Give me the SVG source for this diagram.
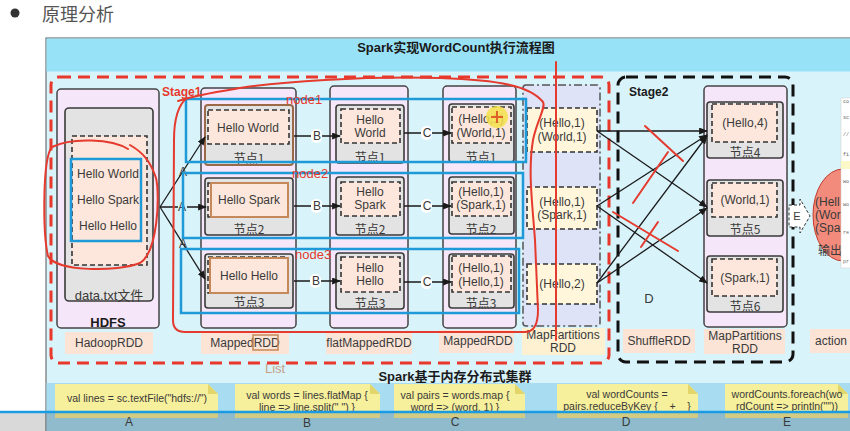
<svg xmlns="http://www.w3.org/2000/svg" width="850" height="431" viewBox="0 0 850 431">
<defs>
<marker id="ah" viewBox="0 0 10 8" refX="9" refY="4" markerWidth="9" markerHeight="7" markerUnits="userSpaceOnUse" orient="auto"><path d="M0,0 L10,4 L0,8 z" fill="#1a1a1a"/></marker>
</defs>
<style>
.t{font-family:"Liberation Sans","Noto Sans CJK SC",sans-serif;fill:#3a3a3a;font-size:12px;text-anchor:middle;dominant-baseline:central}
.c{font-family:"Noto Sans CJK SC","Liberation Sans",sans-serif}
.b{font-weight:bold;fill:#1a1a1a}
.col{fill:#f6e6f9;stroke:#444;stroke-width:1.5}
.nd{fill:#e3e3e3;stroke:#3a3a3a;stroke-width:1.6}
.dsh{fill:#fde7dc;stroke:#333;stroke-width:1.6;stroke-dasharray:5 3}
.yel{fill:#fff6dc;stroke:#333;stroke-width:1.6;stroke-dasharray:5 3}
.ora{fill:#fde7dc;stroke:#c4885a;stroke-width:2}
.lbl{fill:#fbe4d6}
.ln{stroke:#1a1a1a;stroke-width:1.3;fill:none;marker-end:url(#ah)}
.blue{fill:none;stroke:#1f9ad8;stroke-width:2.5}
.red{fill:none;stroke:#e53a2e;stroke-width:2;stroke-linecap:round}
.note{fill:#f6ef9b}
.fold{fill:#e2d56a}
.nt{font-family:"Liberation Sans",sans-serif;fill:#3a3a3a;font-size:10.5px;text-anchor:middle;dominant-baseline:central}
.code{font-family:"Liberation Mono",monospace;font-size:5px;fill:#666;dominant-baseline:central}
</style>
<rect x="0" y="0" width="850" height="431" fill="#ffffff"/>
<circle cx="15" cy="13" r="4.5" fill="#333"/>
<text x="42" y="13" class="t c" style="font-size:18px;text-anchor:start;fill:#555">原理分析</text>

<!-- frame -->
<rect x="46" y="38" width="820" height="400" fill="#d9f3fb" stroke="#555" stroke-width="1"/>
<rect x="46.5" y="38.5" width="820" height="33" fill="#98e2f8"/>
<text x="456" y="47" class="t b" style="font-size:13px">Spark实现WordCount执行流程图</text>
<rect x="46.5" y="383" width="820" height="50" fill="#a8dcf0"/>
<text x="455" y="376" class="t b" style="font-size:13px">Spark基于内存分布式集群</text>

<!-- stages -->
<rect x="51" y="77" width="558" height="286" rx="8" fill="none" stroke="#e8382b" stroke-width="3" stroke-dasharray="12 7"/>
<text x="162" y="92" class="t b" style="text-anchor:start;fill:#e8382b">Stage1</text>
<rect x="618" y="77" width="175" height="285" rx="8" fill="none" stroke="#111" stroke-width="3" stroke-dasharray="12 7"/>
<text x="629" y="92" class="t b" style="text-anchor:start">Stage2</text>

<!-- HDFS -->
<g id="hdfs">
<rect x="57" y="89" width="102" height="239" rx="4" class="col"/>
<rect x="65" y="108" width="88" height="193" rx="4" class="nd"/>
<rect x="72" y="136" width="75" height="129" class="dsh"/>
<rect x="71" y="159" width="70" height="82" class="blue"/>
<text x="108" y="174" class="t">Hello World</text>
<text x="108" y="200" class="t">Hello Spark</text>
<text x="108" y="226" class="t">Hello Hello</text>
<text x="109" y="295" class="t" style="font-size:13px">data.txt文件</text>
<text x="108" y="322" class="t b" style="font-size:13px">HDFS</text>
<rect x="65" y="332" width="88" height="22" class="lbl"/>
<text x="109" y="343" class="t">HadoopRDD</text>
</g>

<!-- MappedRDD 1 -->
<g id="mapped1">
<rect x="201" y="88" width="95" height="240" rx="4" class="col"/>
<rect x="205" y="105" width="88" height="60" rx="3" class="nd" style="stroke:#9a6a48;stroke-width:2"/>
<rect x="208" y="110" width="81" height="34" class="dsh"/>
<text x="248" y="128" class="t">Hello World</text>
<text x="249" y="157" class="t c">节点1</text>
<rect x="205" y="178" width="88" height="57" rx="3" class="nd"/>
<rect x="208" y="183" width="80" height="34" class="dsh"/>
<rect x="211" y="183" width="77" height="34" class="ora"/>
<text x="249" y="200" class="t">Hello Spark</text>
<text x="249" y="228" class="t c">节点2</text>
<rect x="205" y="254" width="88" height="54" rx="3" class="nd"/>
<rect x="208" y="257" width="80" height="36" class="dsh"/>
<rect x="210" y="258" width="78" height="35" class="ora"/>
<text x="249" y="276" class="t">Hello Hello</text>
<text x="249" y="301" class="t c">节点3</text>
<rect x="201" y="332" width="88" height="22" class="lbl"/>
<text x="245" y="343" class="t">MappedRDD</text>
<rect x="253" y="335" width="25" height="15" fill="none" stroke="#c4885a" stroke-width="1.5"/>
</g>

<!-- flatMappedRDD -->
<g id="flatmapped">
<rect x="330" y="86" width="78" height="242" rx="4" class="col"/>
<rect x="336" y="105" width="68" height="58" rx="3" class="nd"/>
<rect x="341" y="109" width="59" height="34" class="dsh"/>
<text x="370" y="120" class="t">Hello</text>
<text x="370" y="133" class="t">World</text>
<text x="370" y="156" class="t c">节点1</text>
<rect x="336" y="177" width="68" height="58" rx="3" class="nd"/>
<rect x="341" y="182" width="59" height="34" class="dsh"/>
<text x="370" y="192" class="t">Hello</text>
<text x="370" y="205" class="t">Spark</text>
<text x="370" y="228" class="t c">节点2</text>
<rect x="336" y="253" width="68" height="56" rx="3" class="nd"/>
<rect x="341" y="257" width="59" height="35" class="dsh"/>
<text x="370" y="268" class="t">Hello</text>
<text x="370" y="281" class="t">Hello</text>
<text x="370" y="302" class="t c">节点3</text>
<rect x="326" y="332" width="86" height="22" class="lbl"/>
<text x="369" y="343" class="t">flatMappedRDD</text>
</g>

<!-- MappedRDD 2 -->
<g id="mapped2">
<rect x="443" y="86" width="73" height="242" rx="4" class="col"/>
<rect x="449" y="104" width="65" height="58" rx="3" class="nd"/>
<rect x="452" y="107" width="59" height="36" class="dsh"/>
<text x="481" y="119" class="t">(Hello,1)</text>
<text x="481" y="133" class="t">(World,1)</text>
<text x="481" y="156" class="t c">节点1</text>
<rect x="449" y="177" width="65" height="57" rx="3" class="nd"/>
<rect x="452" y="182" width="59" height="34" class="dsh"/>
<text x="481" y="192" class="t">(Hello,1)</text>
<text x="481" y="205" class="t">(Spark,1)</text>
<text x="481" y="228" class="t c">节点2</text>
<rect x="449" y="254" width="65" height="54" rx="3" class="nd"/>
<rect x="452" y="256" width="59" height="36" class="dsh"/>
<text x="481" y="268" class="t">(Hello,1)</text>
<text x="481" y="282" class="t">(Hello,1)</text>
<text x="481" y="302" class="t c">节点3</text>
<rect x="439" y="330" width="75" height="23" class="lbl"/>
<text x="478" y="341" class="t">MappedRDD</text>
</g>

<!-- MapPartitions stage1 -->
<g id="mappart1">
<rect x="523" y="85" width="77" height="241" rx="3" fill="#dfe3f8" stroke="#555" stroke-width="1.5" stroke-dasharray="8 3 2 3"/>
<rect x="527" y="108" width="70" height="44" class="yel"/>
<text x="562" y="123" class="t">(Hello,1)</text>
<text x="562" y="137" class="t">(World,1)</text>
<rect x="527" y="187" width="70" height="42" class="yel"/>
<text x="562" y="202" class="t">(Hello,1)</text>
<text x="562" y="215" class="t">(Spark,1)</text>
<rect x="527" y="264" width="70" height="40" class="yel"/>
<text x="562" y="284" class="t">(Hello,2)</text>
<rect x="522" y="328" width="83" height="27" fill="#fdf1d2"/>
<text x="563" y="335" class="t">MapPartitions</text>
<text x="563" y="348" class="t">RDD</text>
</g>

<!-- MapPartitions stage2 -->
<g id="mappart2">
<rect x="704" y="86" width="83" height="241" rx="4" class="col"/>
<rect x="707" y="102" width="76" height="56" rx="3" class="nd"/>
<rect x="712" y="104" width="65" height="38" class="dsh"/>
<text x="745" y="123" class="t">(Hello,4)</text>
<text x="745" y="151" class="t c">节点4</text>
<rect x="707" y="180" width="76" height="56" rx="3" class="nd"/>
<rect x="712" y="183" width="65" height="34" class="dsh"/>
<text x="745" y="200" class="t">(World,1)</text>
<text x="745" y="228" class="t c">节点5</text>
<rect x="707" y="256" width="76" height="56" rx="3" class="nd"/>
<rect x="712" y="259" width="65" height="37" class="dsh"/>
<text x="745" y="278" class="t">(Spark,1)</text>
<text x="745" y="305" class="t c">节点6</text>
<rect x="704" y="329" width="81" height="25" class="lbl"/>
<text x="745" y="336" class="t">MapPartitions</text>
<text x="745" y="349" class="t">RDD</text>
</g>

<g id="shuffle">
<rect x="623" y="329" width="72" height="24" class="lbl"/>
<text x="659" y="341" class="t">ShuffleRDD</text>
<text x="649" y="298" class="t" style="font-size:13px">D</text>
</g>

<!-- connectors -->
<g id="connectors">
<line x1="160" y1="207" x2="205" y2="137" class="ln"/>
<line x1="160" y1="207" x2="206" y2="207" class="ln"/>
<line x1="160" y1="207" x2="205" y2="279" class="ln"/>
<line x1="294" y1="136" x2="340" y2="136" class="ln"/>
<line x1="294" y1="206" x2="340" y2="206" class="ln"/>
<line x1="294" y1="281" x2="340" y2="281" class="ln"/>
<line x1="404" y1="133" x2="451" y2="133" class="ln"/>
<line x1="404" y1="206" x2="451" y2="206" class="ln"/>
<line x1="404" y1="282" x2="451" y2="282" class="ln"/>
<line x1="597" y1="131" x2="707" y2="131" class="ln"/>
<line x1="597" y1="131" x2="707" y2="207" class="ln"/>
<line x1="597" y1="206" x2="707" y2="135" class="ln"/>
<line x1="597" y1="206" x2="707" y2="283" class="ln"/>
<line x1="597" y1="283" x2="707" y2="136" class="ln"/>
<line x1="597" y1="283" x2="707" y2="208" class="ln"/>
<rect x="178" y="200" width="9" height="14" fill="#d9f3fb"/>
<text x="183" y="172" class="t">A</text>
<text x="182" y="207" class="t">A</text>
<text x="183" y="244" class="t">A</text>
<rect x="311" y="129" width="11" height="14" rx="5" fill="#fff"/>
<rect x="311" y="199" width="11" height="14" rx="5" fill="#fff"/>
<rect x="310" y="274" width="11" height="14" rx="5" fill="#fff"/>
<text x="317" y="136" class="t">B</text>
<text x="317" y="206" class="t">B</text>
<text x="316" y="281" class="t">B</text>
<rect x="421" y="126" width="11" height="14" rx="5" fill="#fff"/>
<rect x="421" y="199" width="11" height="14" rx="5" fill="#fff"/>
<rect x="421" y="275" width="11" height="14" rx="5" fill="#fff"/>
<text x="427" y="133" class="t">C</text>
<text x="427" y="206" class="t">C</text>
<text x="427" y="282" class="t">C</text>
</g>

<!-- right side: action / output -->
<g id="output">
<polygon points="789,205 800,205 800,199 810,216 800,233 800,227 789,227" fill="#fff" stroke="#333" stroke-width="1" stroke-dasharray="3 2"/>
<text x="797" y="216" class="t" style="font-size:11px">E</text>
<ellipse cx="843" cy="215" rx="30" ry="46" fill="#f28b7b" stroke="#c0392b" stroke-width="1"/>
<text x="815" y="202" class="t" style="text-anchor:start">(Hell</text>
<text x="815" y="215" class="t" style="text-anchor:start">(Worl</text>
<text x="815" y="228" class="t" style="text-anchor:start">(Spar</text>
<text x="818" y="249" class="t c" style="text-anchor:start">输出</text>
<rect x="841" y="98" width="12" height="170" fill="#ffffff" stroke="#ccc" stroke-width="0.5"/>
<rect x="841" y="161" width="12" height="8" fill="#fdf8c8"/>
<text x="843" y="102" class="code">co</text>
<text x="843" y="118" class="code">sc</text>
<text x="843" y="135" class="code">//</text>
<text x="843" y="155" class="code">fi</text>
<text x="843" y="182" class="code">wo</text>
<text x="843" y="205" class="code">wo</text>
<text x="843" y="233" class="code">re</text>
<text x="843" y="262" class="code">pr</text>
<rect x="810" y="329" width="45" height="24" class="lbl"/>
<text x="815" y="341" class="t" style="text-anchor:start">action</text>
</g>

<!-- sticky notes -->
<g id="notes">
<polygon points="55,384 208,384 218,394 218,418 55,418" class="note"/>
<polygon points="208,384 218,394 208,394" class="fold"/>
<text x="137" y="398" class="nt">val lines = sc.textFile("hdfs://")</text>
<polygon points="235,384 370,384 380,394 380,418 235,418" class="note"/>
<polygon points="370,384 380,394 370,394" class="fold"/>
<text x="307" y="395" class="nt">val words = lines.flatMap {</text>
<text x="307" y="407" class="nt">line =&gt; line.split(" ") }</text>
<polygon points="394,384 515,384 525,394 525,418 394,418" class="note"/>
<polygon points="515,384 525,394 515,394" class="fold"/>
<text x="455" y="395" class="nt">val pairs = words.map {</text>
<text x="455" y="407" class="nt">word =&gt; (word, 1) }</text>
<polygon points="557,384 688,384 698,394 698,418 557,418" class="note"/>
<polygon points="688,384 698,394 688,394" class="fold"/>
<text x="627" y="394" class="nt">val wordCounts =</text>
<text x="627" y="406" class="nt">pairs.reduceByKey { _ + _ }</text>
<polygon points="725,384 838,384 848,394 848,418 725,418" class="note"/>
<polygon points="838,384 848,394 838,394" class="fold"/>
<text x="787" y="394" class="nt">wordCounts.foreach(wo</text>
<text x="787" y="406" class="nt">rdCount =&gt; println(""))</text>
</g>

<!-- annotations -->
<g id="annotations">
<rect x="186" y="99" width="340" height="63" class="blue"/>
<rect x="183" y="173" width="340" height="65" class="blue"/>
<rect x="181" y="249" width="338" height="64" class="blue"/>
<text x="286" y="99" class="t" style="text-anchor:start;fill:#e53a2e;font-size:13px">node1</text>
<text x="292" y="173" class="t" style="text-anchor:start;fill:#e53a2e;font-size:13px">node2</text>
<text x="295" y="254" class="t" style="text-anchor:start;fill:#e53a2e;font-size:13px">node3</text>
<text x="265" y="368" class="t" style="text-anchor:start;fill:#c4a088;font-size:13px">List</text>
<path class="red" d="M128,149 C112,139 72,137 52,147 C42,158 43,235 48,256 C56,272 118,272 140,263 C158,252 160,195 156,178 C150,160 142,152 130,145"/>
<path class="red" d="M187,98 C178,105 174,120 174,140 L173,320 C173,328 177,332 185,332 L525,332 C535,332 538,322 538,310 L535,240 C532,200 528,170 533,140 C537,120 546,108 543,102 C530,86 500,80 440,78 C360,76 280,82 240,88 C215,92 195,95 178,101"/>
<line class="red" x1="556" y1="62" x2="556" y2="340"/>
<line class="red" x1="645" y1="126" x2="683" y2="161"/>
<line class="red" x1="668" y1="152" x2="633" y2="203"/>
<line class="red" x1="613" y1="212" x2="678" y2="251"/>
<line class="red" x1="658" y1="222" x2="641" y2="247"/>
<circle cx="497" cy="117" r="11" fill="#f3e14a" opacity="0.85"/>
<path d="M497,111 L497,123 M491,117 L503,117" stroke="#e0602a" stroke-width="2"/>
</g>

<!-- video bar overlay -->
<rect x="0" y="413" width="850" height="18" fill="#000" opacity="0.15"/>
<line x1="0" y1="412" x2="850" y2="412" stroke="#1b9ce2" stroke-width="2.5"/>
<g id="letters">
<text x="129" y="422" class="t">A</text>
<text x="307" y="423" class="t">B</text>
<text x="455" y="422" class="t">C</text>
<text x="626" y="422" class="t">D</text>
<text x="787" y="422" class="t">E</text>
</g>
</svg>
